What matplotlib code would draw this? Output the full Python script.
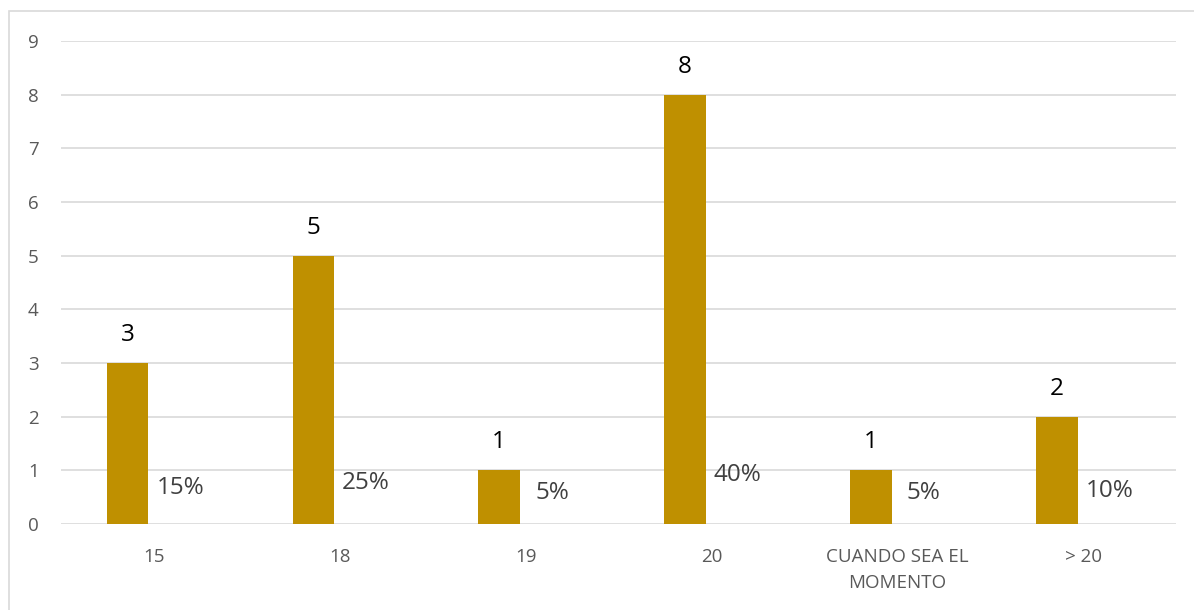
import matplotlib
matplotlib.use("Agg")
import matplotlib.pyplot as plt
from matplotlib.patches import Rectangle
import numpy as np

categories = ["15", "18", "19", "20", "CUANDO SEA EL\nMOMENTO", "> 20"]
counts = [3, 5, 1, 8, 1, 2]
percents = [0.15, 0.25, 0.05, 0.40, 0.05, 0.10]
pct_labels = ["15%", "25%", "5%", "40%", "5%", "10%"]
yticks = list(range(0, 10))

plt.rcParams['font.family'] = ['Open Sans', 'DejaVu Sans']

W, H = 1194, 610
fig = plt.figure(figsize=(W / 100, H / 100), dpi=100)
ax = fig.add_axes([61 / W, 1 - 524 / H, (1176 - 61) / W, (524 - 41) / H])

x = np.arange(len(categories))
bw = 0.224
off = 0.142
gold = "#BF9000"

ax.bar(x - off, counts, width=bw, color=gold, zorder=3)
ax.bar(x + off, percents, width=bw, color="none", zorder=3)

for xi, c in zip(x, counts):
    ax.annotate(str(c), (xi - off, c), xytext=(0, 28), textcoords="offset pixels",
                ha="center", va="center", fontsize=17.5, color="black")
for xi, p, lab in zip(x, percents, pct_labels):
    ax.annotate(lab, (xi + off, p), xytext=(0, 28), textcoords="offset pixels",
                ha="center", va="center", fontsize=17.5, color="#404040")

ax.set_xlim(-0.5, len(categories) - 0.5)
ax.set_ylim(0, 9)
ax.set_yticks(yticks)
ax.set_xticks(x)
ax.set_xticklabels(categories, fontsize=13.5, color="#595959", linespacing=1.6)
ax.tick_params(axis="y", labelsize=13.5, labelcolor="#595959", length=0, pad=16)
ax.tick_params(axis="x", length=0, pad=17)
ax.grid(axis="y", color="#D9D9D9", linewidth=1.2, zorder=0)
for s in ax.spines.values():
    s.set_visible(False)

fig.patches.append(Rectangle((9 / W, -0.1), 1.2, 1.1 - 11 / H, transform=fig.transFigure,
                             fill=False, edgecolor="#D9D9D9", linewidth=1.2))

fig.savefig("out.png", dpi=100)
